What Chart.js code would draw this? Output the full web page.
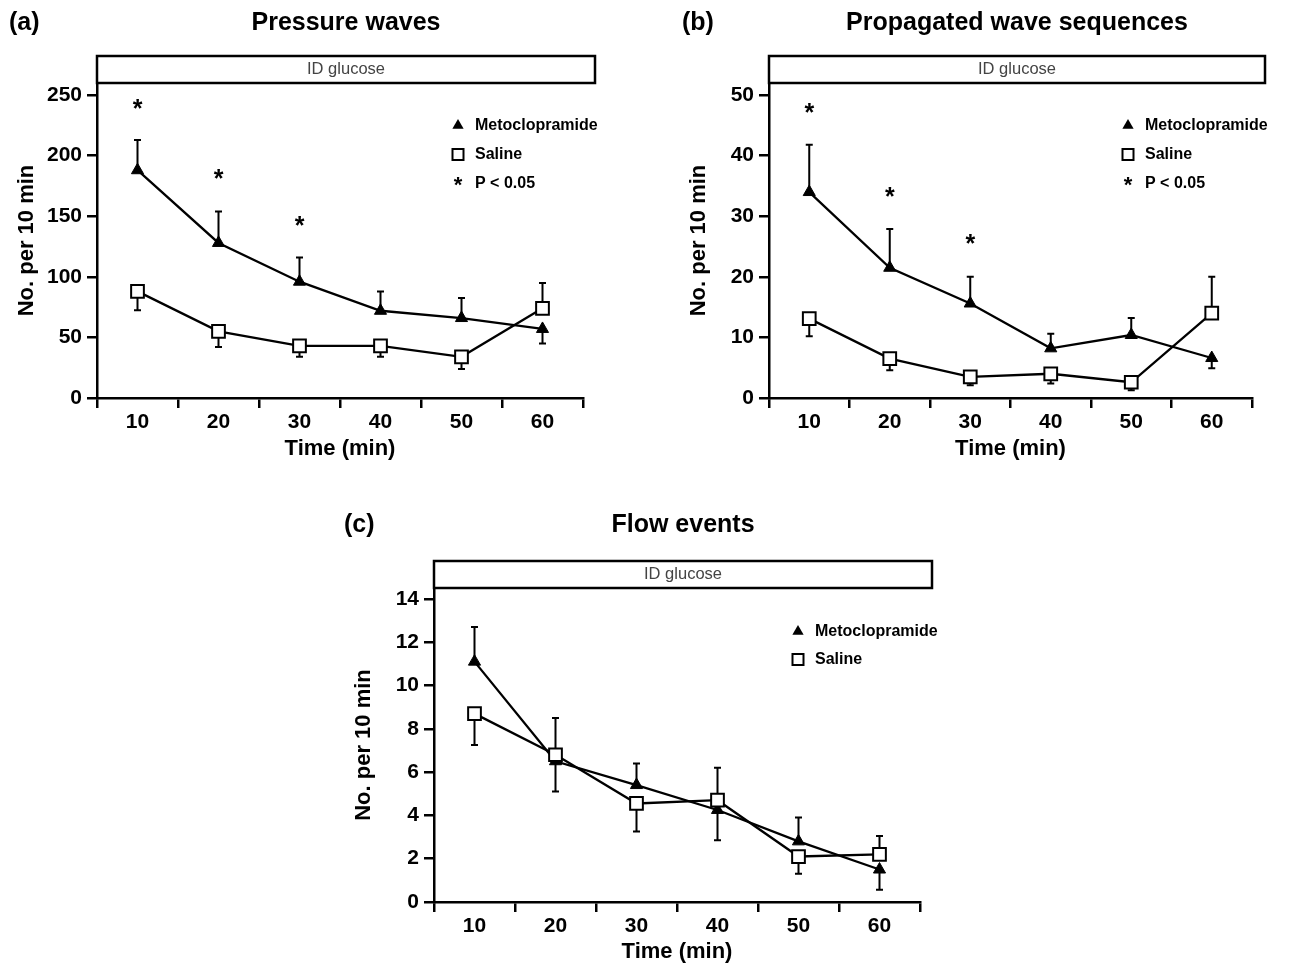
<!DOCTYPE html>
<html>
<head>
<meta charset="utf-8">
<script src="https://cdn.jsdelivr.net/npm/chart.js@4"></script>
<style>
    html, body { margin: 0; padding: 0; background: #fff; width: 1294px; height: 968px; overflow: hidden; }
    canvas { position: absolute; }
    #chartA { left: 0; top: 0; }
    #chartB { left: 672px; top: 0; }
    #chartC { left: 337px; top: 483px; }
</style>
</head>
<body>
<canvas id="chartA" width="640" height="470"></canvas>
<canvas id="chartB" width="640" height="470"></canvas>
<canvas id="chartC" width="640" height="485"></canvas>
<script>
// Data
const timeLabels = ['10', '20', '30', '40', '50', '60'];

// (a) Pressure waves
const pressureMeto = [188, 128, 96, 72, 66, 57];
const pressureMetoErr = [213, 154, 116, 88, 82.5, 45];
const pressureSaline = [88, 55, 43, 43, 34, 74];
const pressureSalineErr = [72.5, 42, 34, 34, 24, 95];
const pressureSig = [243, 185, 146, null, null, null];
const pressureTicks = [0, 50, 100, 150, 200, 250];

// (b) Propagated wave sequences
const propMeto = [34, 21.5, 15.6, 8.2, 10.4, 6.6];
const propMetoErr = [41.8, 27.9, 20, 10.6, 13.2, 4.9];
const propSaline = [13.1, 6.5, 3.5, 4.0, 2.6, 14];
const propSalineErr = [10.2, 4.6, 2.1, 2.4, 1.3, 20];
const propSig = [47.8, 34, 26.3, null, null, null];
const propTicks = [0, 10, 20, 30, 40, 50];

// (c) Flow events
const flowMeto = [11.1, 6.5, 5.4, 4.25, 2.8, 1.5];
const flowMetoErr = [12.7, 5.1, 6.4, 2.85, 3.9, 0.57];
const flowSaline = [8.7, 6.8, 4.55, 4.7, 2.1, 2.2];
const flowSalineErr = [7.25, 8.5, 3.25, 6.2, 1.3, 3.05];
const flowSig = [null, null, null, null, null, null];
const flowTicks = [0, 2, 4, 6, 8, 10, 12, 14];

const FONT = "'Liberation Sans', Arial, Helvetica, sans-serif";
Chart.defaults.font.family = FONT;
Chart.defaults.color = '#000';

function drawMarker(ctx, style, x, y) {
    ctx.save();
    ctx.lineWidth = 2;
    ctx.strokeStyle = '#000';
    if (style === 'triangle') {
        const r = 6.5;
        ctx.beginPath();
        ctx.moveTo(x, y - r);
        ctx.lineTo(x + r * 0.866, y + r / 2);
        ctx.lineTo(x - r * 0.866, y + r / 2);
        ctx.closePath();
        ctx.fillStyle = '#000';
        ctx.fill();
    } else {
        const h = 5.5;
        ctx.fillStyle = '#fff';
        ctx.fillRect(x - h, y - h, 2 * h, 2 * h);
        ctx.strokeRect(x - h, y - h, 2 * h, 2 * h);
    }
    ctx.restore();
}

function drawStar(ctx, x, y, size) {
    ctx.save();
    ctx.font = 'bold ' + size + 'px ' + FONT;
    ctx.textAlign = 'center';
    ctx.textBaseline = 'alphabetic';
    const m = ctx.measureText('*');
    ctx.fillStyle = '#000';
    ctx.fillText('*', x, y + (m.actualBoundingBoxAscent - m.actualBoundingBoxDescent) / 2);
    ctx.restore();
}

function makePanel(canvasId, p) {
    const decor = {
        id: 'decor',
        beforeDatasetsDraw(chart) {
            const { ctx } = chart;
            const xs = chart.scales.x, ys = chart.scales.y;
            ctx.save();
            ctx.strokeStyle = '#000';
            ctx.lineWidth = 2;
            [[p.meto, p.metoErr], [p.saline, p.salineErr]].forEach(([vals, ends]) => {
                vals.forEach((v, i) => {
                    const x = xs.getPixelForValue(i);
                    const y0 = ys.getPixelForValue(v);
                    const y1 = ys.getPixelForValue(ends[i]);
                    ctx.beginPath();
                    ctx.moveTo(x, y0);
                    ctx.lineTo(x, y1);
                    ctx.moveTo(x - 3.5, y1);
                    ctx.lineTo(x + 3.5, y1);
                    ctx.stroke();
                });
            });
            ctx.restore();
        },
        afterDraw(chart) {
            const { ctx, chartArea } = chart;
            const xs = chart.scales.x, ys = chart.scales.y;
            ctx.save();

            // ID glucose box
            const bx = chartArea.left, bw = p.boxRight - chartArea.left;
            const by = chartArea.top - 27, bh = 27;
            ctx.fillStyle = '#fff';
            ctx.fillRect(bx, by, bw, bh);
            ctx.lineWidth = 2.5;
            ctx.strokeStyle = '#000';
            ctx.strokeRect(bx, by, bw, bh);
            ctx.fillStyle = '#444';
            ctx.font = '16.5px ' + FONT;
            ctx.textAlign = 'center';
            ctx.textBaseline = 'middle';
            ctx.fillText('ID glucose', bx + bw / 2, by + bh / 2);

            // panel label and title
            ctx.fillStyle = '#000';
            ctx.font = 'bold 25px ' + FONT;
            ctx.textAlign = 'left';
            ctx.fillText(p.label, p.labelX, p.titleY);
            ctx.textAlign = 'center';
            ctx.fillText(p.title, bx + bw / 2, p.titleY);

            // legend
            const items = [['triangle', 'Metoclopramide'], ['rect', 'Saline']];
            if (p.showSigKey) items.push(['star', 'P < 0.05']);
            items.forEach(([style, text], k) => {
                const ly = p.legendY + k * p.legendGap;
                if (style === 'star') drawStar(ctx, p.legendX, ly - 1, 22);
                else drawMarker(ctx, style, p.legendX, ly + 1);
                ctx.fillStyle = '#000';
                ctx.font = 'bold 16px ' + FONT;
                ctx.textAlign = 'left';
                ctx.textBaseline = 'middle';
                ctx.fillText(text, p.legendX + 17, ly + 1);
            });

            // significance stars
            p.sig.forEach((v, i) => {
                if (v === null) return;
                drawStar(ctx, xs.getPixelForValue(i), ys.getPixelForValue(v), 25);
            });
            ctx.restore();
        }
    };

    const tickFont = { size: 21, weight: 'bold' };
    const titleFont = { size: 22, weight: 'bold' };

    return new Chart(document.getElementById(canvasId), {
        type: 'line',
        data: {
            labels: timeLabels,
            datasets: [
                {
                    label: 'Saline',
                    data: p.saline,
                    borderColor: '#000',
                    borderWidth: 2.3,
                    pointStyle: 'rect',
                    pointRadius: 9,
                    pointBackgroundColor: '#fff',
                    pointBorderColor: '#000',
                    pointBorderWidth: 2,
                    tension: 0
                },
                {
                    label: 'Metoclopramide',
                    data: p.meto,
                    borderColor: '#000',
                    borderWidth: 2.3,
                    pointStyle: 'triangle',
                    pointRadius: 7,
                    pointBackgroundColor: '#000',
                    pointBorderColor: '#000',
                    pointBorderWidth: 1,
                    tension: 0
                }
            ]
        },
        options: {
            responsive: false,
            animation: false,
            layout: { padding: { left: 0, right: p.padRight, top: p.padTop, bottom: 0 } },
            plugins: {
                legend: { display: false },
                tooltip: { enabled: false }
            },
            scales: {
                x: {
                    type: 'category',
                    offset: true,
                    grid: { offset: true, drawOnChartArea: false, tickLength: 10, color: '#000', lineWidth: 2.5 },
                    border: { color: '#000', width: 2.5 },
                    ticks: { font: tickFont, padding: 2, color: '#000', maxRotation: 0 },
                    title: {
                        display: true, text: 'Time (min)', font: titleFont, color: '#000',
                        padding: { top: p.xTitlePad, bottom: p.xTitlePad }
                    },
                    afterFit(s) { s.height = p.xAxisHeight; }
                },
                y: {
                    type: 'linear',
                    min: 0,
                    max: p.yMax,
                    afterBuildTicks(s) { s.ticks = p.yTicks.map(v => ({ value: v })); },
                    grid: { drawOnChartArea: false, tickLength: 10, color: '#000', lineWidth: 2.5 },
                    border: { color: '#000', width: 2.5 },
                    ticks: { font: tickFont, padding: 5, color: '#000' },
                    title: {
                        display: true, text: 'No. per 10 min', font: titleFont, color: '#000',
                        padding: { top: 14, bottom: 0 }
                    },
                    afterFit(s) { s.width = 97; }
                }
            }
        },
        plugins: [decor]
    });
}

makePanel('chartA', {
    label: '(a)', title: 'Pressure waves', labelX: 9, titleY: 23,
    meto: pressureMeto, metoErr: pressureMetoErr, saline: pressureSaline, salineErr: pressureSalineErr,
    sig: pressureSig, yTicks: pressureTicks, yMax: 260,
    padTop: 83, padRight: 57, xAxisHeight: 72, xTitlePad: 8, boxRight: 595,
    legendX: 458, legendY: 124.5, legendGap: 29, showSigKey: true
});

makePanel('chartB', {
    label: '(b)', title: 'Propagated wave sequences', labelX: 10, titleY: 23,
    meto: propMeto, metoErr: propMetoErr, saline: propSaline, salineErr: propSalineErr,
    sig: propSig, yTicks: propTicks, yMax: 52,
    padTop: 83, padRight: 60, xAxisHeight: 72, xTitlePad: 8, boxRight: 593,
    legendX: 456, legendY: 124.5, legendGap: 29, showSigKey: true
});

makePanel('chartC', {
    label: '(c)', title: 'Flow events', labelX: 7, titleY: 42,
    meto: flowMeto, metoErr: flowMetoErr, saline: flowSaline, salineErr: flowSalineErr,
    sig: flowSig, yTicks: flowTicks, yMax: 14.5,
    padTop: 105, padRight: 57, xAxisHeight: 66, xTitlePad: 3, boxRight: 595,
    legendX: 461, legendY: 147.5, legendGap: 28, showSigKey: false
});
</script>
</body>
</html>
